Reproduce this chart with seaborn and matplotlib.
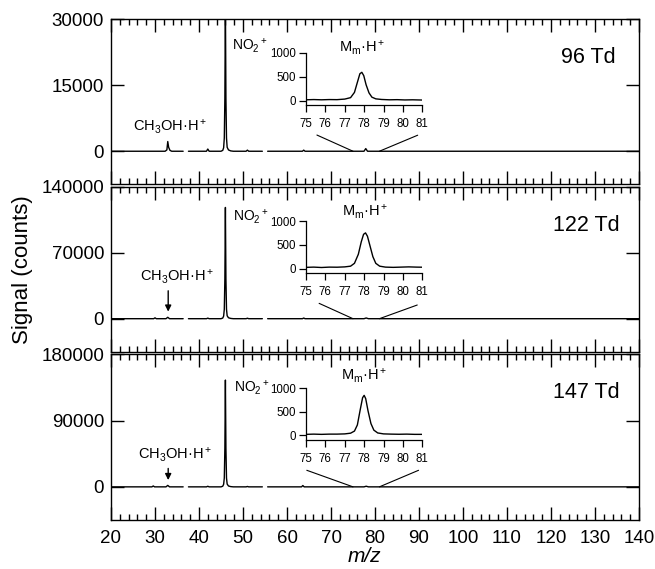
import matplotlib
matplotlib.use("Agg")
import matplotlib.pyplot as plt
import numpy as np
import pandas as pd
import seaborn as sns
from matplotlib.ticker import MultipleLocator

sns.set_theme(style="ticks")
plt.rcParams["font.family"] = ["Liberation Sans", "DejaVu Sans"]
plt.rcParams["mathtext.fontset"] = "custom"
plt.rcParams["mathtext.rm"] = "Liberation Sans"
plt.rcParams["mathtext.it"] = "Liberation Sans:italic"
plt.rcParams["mathtext.default"] = "regular"
plt.rcParams["text.color"] = "black"
plt.rcParams["axes.labelcolor"] = "black"
plt.rcParams["xtick.color"] = "black"
plt.rcParams["ytick.color"] = "black"
plt.rcParams["axes.edgecolor"] = "black"

# ---------------- data ----------------
panel_labels = ["96 Td", "122 Td", "147 Td"]
y_top = [30000, 140000, 180000]
y_mid = [15000, 70000, 90000]

# main spectra (None = skipped mass range)
mz_96 = [20, 32.3, 32.7, 32.9, 33.1, 33.4, 33.8, 36.4, None, 37.6, 41.7, 42.0, 42.3,
         45.0, 45.4, 45.6, 45.75, 45.88, 46.0, 46.12, 46.25, 46.4, 46.7, 47.2, 47.8,
         50.7, 51.0, 51.3, 54.4, None, 55.6, 63.5, 63.8, 64.1, 77.5, 77.9, 78.3, 140]
sig_96 = [0, 0, 300, 2200, 900, 200, 0, 0, None, 0, 0, 500, 0,
          0, 200, 800, 3000, 12000, 34000, 12000, 3000, 900, 300, 80, 0,
          0, 250, 0, 0, None, 0, 0, 250, 0, 0, 600, 0, 0]

mz_122 = [20, 29.7, 30.0, 30.3, 32.5, 32.9, 33.3, 36.4, None, 37.6, 41.7, 42.0, 42.3,
          45.0, 45.4, 45.6, 45.75, 45.88, 46.0, 46.12, 46.25, 46.4, 46.7, 47.2, 47.8,
          50.7, 51.0, 51.3, 54.4, None, 55.6, 63.5, 63.8, 64.1, 77.5, 78.0, 78.5, 140]
sig_122 = [0, 0, 900, 0, 0, 1500, 0, 0, None, 0, 0, 600, 0,
           0, 700, 2800, 10000, 42000, 118000, 42000, 10000, 3100, 1000, 300, 0,
           0, 500, 0, 0, None, 0, 0, 700, 0, 0, 750, 0, 0]

mz_147 = [20, 29.3, 29.6, 29.9, 32.5, 32.9, 33.3, 36.4, None, 37.6, 41.7, 42.0, 42.3,
          45.0, 45.4, 45.6, 45.75, 45.88, 46.0, 46.12, 46.25, 46.4, 46.7, 47.2, 47.8,
          50.7, 51.0, 51.3, 54.4, None, 55.6, 63.3, 63.6, 63.9, 77.5, 78.0, 78.5, 140]
sig_147 = [0, 0, 1200, 0, 0, 2000, 0, 0, None, 0, 0, 800, 0,
           0, 900, 3500, 12000, 52000, 145000, 52000, 12000, 3800, 1200, 350, 0,
           0, 500, 0, 0, None, 0, 0, 1800, 0, 0, 850, 0, 0]

# inset spectra (m/z 75-81)
ins_mz_96 = [75.0, 75.4, 75.8, 76.2, 76.6, 77.0, 77.3, 77.5, 77.65, 77.78, 77.88, 77.98,
             78.1, 78.25, 78.4, 78.6, 78.9, 79.3, 79.7, 80.1, 80.5, 81.0]
ins_sig_96 = [15, 20, 15, 20, 18, 30, 60, 170, 380, 560, 590, 520,
              330, 160, 70, 35, 22, 15, 18, 12, 15, 10]
ins_mz_122 = [75.0, 75.4, 75.8, 76.2, 76.6, 77.0, 77.3, 77.5, 77.7, 77.85, 77.97, 78.07,
              78.17, 78.3, 78.45, 78.6, 78.8, 79.1, 79.5, 79.9, 80.3, 80.7, 81.0]
ins_sig_122 = [25, 30, 22, 30, 28, 35, 50, 110, 300, 560, 720, 750,
               680, 480, 250, 110, 50, 30, 25, 30, 35, 30, 28]
ins_mz_147 = [75.0, 75.4, 75.8, 76.2, 76.6, 77.0, 77.3, 77.5, 77.65, 77.8, 77.92, 78.0,
              78.08, 78.2, 78.35, 78.5, 78.7, 79.0, 79.4, 79.8, 80.2, 80.6, 81.0]
ins_sig_147 = [20, 25, 20, 25, 25, 30, 45, 90, 220, 550, 800, 850,
               780, 520, 250, 110, 50, 30, 25, 22, 25, 20, 20]

main_mz = [mz_96, mz_122, mz_147]
main_sig = [sig_96, sig_122, sig_147]
ins_mz = [ins_mz_96, ins_mz_122, ins_mz_147]
ins_sig = [ins_sig_96, ins_sig_122, ins_sig_147]
inset_ticks_x = [75, 76, 77, 78, 79, 80, 81]
inset_ticks_y = [0, 500, 1000]

# annotation placement (x in m/z, y in axes fraction)
no2_pos = [(47.6, 0.84), (47.8, 0.815), (47.9, 0.80)]
ch3_pos = [(33.4, 0.35), (35.0, 0.454), (34.6, 0.396)]
ch3_arrow = [None, (29600, 7500), (25000, 9200)]
td_pos = [(134.8, 0.77), (135.7, 0.765), (135.7, 0.767)]
mm_lab_y = [900, 1010, 1070]
mm_lab_x = [77.9, 78.05, 78.0]
zoom_left = [(66.8, 0.298), (67.3, 0.293), (64.5, 0.30)]
zoom_right = [(89.7, 0.297), (89.6, 0.283), (89.9, 0.30)]

# ---------------- layout ----------------
W, H = 655, 569
fig = plt.figure(figsize=(W / 100, H / 100), dpi=100)
panel_px = [(19, 184.3), (186.7, 351.7), (354.3, 520)]
inset_px = [(52.7, 105.3), (221, 273.3), (388.3, 440)]
ax_left, ax_right = 111, 639
ins_left, ins_right = 306, 422.3


def to_frame(mz, sig):
    rows, seg = [], 0
    for m, s in zip(mz, sig):
        if m is None:
            seg += 1
            continue
        rows.append((m, s, seg))
    return pd.DataFrame(rows, columns=["mz", "signal", "seg"])


for i in range(3):
    top, bot = panel_px[i]
    ax = fig.add_axes([ax_left / W, 1 - bot / H, (ax_right - ax_left) / W, (bot - top) / H])
    df = to_frame(main_mz[i], main_sig[i])
    sns.lineplot(data=df, x="mz", y="signal", units="seg", estimator=None, sort=False,
                 color="black", lw=1.0, ax=ax, legend=False)
    ax.set_xlim(20, 140)
    ax.set_ylim(-0.25 * y_top[i], y_top[i])
    yt = [0, y_mid[i], y_top[i]]
    ax.set_yticks(yt, labels=[str(v) for v in yt])
    ax.xaxis.set_major_locator(MultipleLocator(10))
    ax.xaxis.set_minor_locator(MultipleLocator(2))
    ax.tick_params(axis="both", which="both", direction="in", top=True, right=True,
                   colors="black", labelsize=13.5)
    ax.tick_params(which="major", length=9.4, width=1.0)
    ax.tick_params(which="minor", length=4.5, width=1.0)
    ax.tick_params(axis="y", pad=5)
    ax.tick_params(axis="x", pad=7)
    if i < 2:
        ax.tick_params(axis="x", labelbottom=False)
    ax.set_xlabel("")
    ax.set_ylabel("")
    for sp in ax.spines.values():
        sp.set_linewidth(1.0)
        sp.set_color("black")

    tr = ax.get_xaxis_transform()
    ax.text(no2_pos[i][0], no2_pos[i][1], "NO$_2$$^+$", transform=tr, fontsize=10,
            ha="left", va="center")
    ax.text(ch3_pos[i][0], ch3_pos[i][1], "CH$_3$OH·H$^+$", transform=tr, fontsize=10.5,
            ha="center", va="center")
    if ch3_arrow[i] is not None:
        ax.annotate("", xy=(33, ch3_arrow[i][1]), xytext=(33, ch3_arrow[i][0]),
                    arrowprops=dict(arrowstyle="-|>", color="black", lw=1.0,
                                    mutation_scale=9, shrinkA=0, shrinkB=0))
    ax.text(td_pos[i][0], td_pos[i][1], panel_labels[i], transform=tr, fontsize=15.5,
            ha="right", va="center")
    ax.plot([zoom_left[i][0], 75], [zoom_left[i][1], 0.2], transform=tr, color="black", lw=0.8)
    ax.plot([81, zoom_right[i][0]], [0.2, zoom_right[i][1]], transform=tr, color="black", lw=0.8)

    # inset
    itop, ibot = inset_px[i]
    ins = fig.add_axes([ins_left / W, 1 - ibot / H, (ins_right - ins_left) / W, (ibot - itop) / H])
    ins.set_facecolor("none")
    sns.lineplot(x=ins_mz[i], y=ins_sig[i], color="black", lw=1.0, ax=ins, legend=False)
    ins.set_xlim(75, 81)
    ins.set_ylim(-100, 1000)
    ins.set_xticks(inset_ticks_x)
    ins.set_yticks(inset_ticks_y)
    ins.spines["top"].set_visible(False)
    ins.spines["right"].set_visible(False)
    for sp in ("left", "bottom"):
        ins.spines[sp].set_linewidth(0.9)
        ins.spines[sp].set_color("black")
    ins.tick_params(direction="out", length=5, width=0.9, labelsize=8.3, colors="black")
    ins.tick_params(axis="x", pad=4)
    ins.tick_params(axis="y", pad=2.5)
    ins.text(mm_lab_x[i], mm_lab_y[i], "M$_m$·H$^+$", fontsize=10.5, ha="center", va="bottom")

fig.text(0.035, 0.527, "Signal (counts)", rotation=90, fontsize=16, ha="center", va="center")
fig.text(0.557, 0.022, "m/z", fontsize=15, style="italic", ha="center", va="center")

fig.savefig("out.png", dpi=100)
